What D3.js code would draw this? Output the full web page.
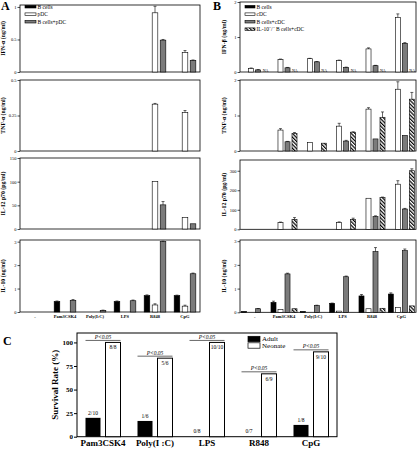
<!DOCTYPE html>
<html><head><meta charset="utf-8">
<script src="https://cdn.jsdelivr.net/npm/d3@7"></script>
<style>body{margin:0;background:#fff}svg{display:block}text{font-family:"Liberation Serif","Times New Roman",serif}</style>
</head><body><svg id="c" width="418" height="449"></svg>
<script>
// ---------- data ----------
const catsAB = ["-", "Pam3CSK4", "Poly(I:C)", "LPS", "R848", "CpG"];
const seriesA = ["B cells", "pDC", "B cells+pDC"];
const seriesB = ["B cells", "cDC", "B cells+cDC", "IL-10\u207B/\u207B B cells+cDC"];

// Panel A
const aIfnB    = [0, 0, 0, 0, 0, 0];
const aIfnP    = [0, 0, 0, 0, 0.91, 0.30];
const aIfnBP   = [0, 0, 0, 0, 0.49, 0.18];
const aIfnPerr = [0, 0, 0, 0, 0.10, 0.03];
const aIfnBPerr= [0, 0, 0, 0, 0.01, 0.005];
const aTnfB    = [0, 0, 0, 0, 0, 0];
const aTnfP    = [0, 0, 0, 0, 0.33, 0.27];
const aTnfBP   = [0, 0, 0, 0, 0, 0];
const aTnfPerr = [0, 0, 0, 0, 0.005, 0.015];
const aIl12B   = [0, 0, 0, 0, 0, 0];
const aIl12P   = [0, 0, 0, 0, 100, 24];
const aIl12BP  = [0, 0, 0, 0, 51, 11];
const aIl12BPerr=[0, 0, 0, 0, 7, 0];
const aIl10B   = [0, 0.45, 0, 0.45, 0.70, 0.70];
const aIl10P   = [0, 0, 0, 0, 0.30, 0.25];
const aIl10BP  = [0, 0.50, 0.07, 0.48, 3.0, 1.63];
const aIl10Berr= [0, 0.02, 0, 0.02, 0.03, 0.02];
const aIl10Perr= [0, 0, 0, 0, 0.05, 0.04];
const aIl10BPerr=[0, 0.03, 0.01, 0.03, 0.02, 0.03];

// Panel B
const bIfnB    = [0, 0, 0, 0, 0, 0];
const bIfnC    = [0.105, 0.36, 0.38, 0.33, 0.66, 1.56];
const bIfnBC   = [0.06, 0.12, 0.29, 0.13, 0.18, 0.82];
const bIfnCerr = [0.01, 0.01, 0.01, 0.01, 0.03, 0.1];
const bIfnBCerr= [0.01, 0.01, 0.01, 0.01, 0.01, 0.02];
const bIfnKOna = ["NA", "NA", "NA", "NA", "NA", "NA"];
const bTnfC    = [0, 0.59, 0.245, 0.70, 1.18, 1.74];
const bTnfBC   = [0, 0.26, 0, 0.28, 0.34, 0.44];
const bTnfKO   = [0, 0.49, 0.22, 0.53, 0.95, 1.46];
const bTnfCerr = [0, 0.04, 0, 0.08, 0.04, 0.21];
const bTnfBCerr= [0, 0.01, 0, 0.02, 0, 0];
const bTnfKOerr= [0, 0.03, 0, 0.01, 0.15, 0.19];
const bIl12C   = [0, 34, 0, 35, 159, 231];
const bIl12BC  = [0, 0, 0, 0, 65, 104];
const bIl12KO  = [0, 51, 0, 51, 162, 300];
const bIl12Cerr= [0, 3, 0, 3, 0, 18];
const bIl12BCerr=[0, 0, 0, 0, 4, 3];
const bIl12KOerr=[0, 9, 0, 6, 3, 10];
const bIl10B   = [0.04, 0.42, 0.04, 0.38, 0.69, 0.77];
const bIl10C   = [0, 0.12, 0, 0.05, 0.15, 0.20];
const bIl10BC  = [0.15, 1.62, 0.28, 1.50, 2.56, 2.60];
const bIl10KO  = [0, 0.15, 0, 0, 0.17, 0.27];
const bIl10Berr= [0, 0.05, 0, 0.01, 0.06, 0.05];
const bIl10BCerr=[0.01, 0.03, 0.02, 0.03, 0.17, 0.07];

// Panel C
const catsC = ["Pam3CSK4", "Poly(I :C)", "LPS", "R848", "CpG"];
const seriesC = ["Adult", "Neonate"];
const adultRate = [20, 16.7, 0, 0, 12.5];
const neonateRate = [100, 83.3, 100, 66.7, 90];
const adultFrac = ["2/10", "1/6", "0/8", "0/7", "1/8"];
const neonateFrac = ["8/8", "5/6", "10/10", "6/9", "9/10"];
const pLabels = ["P<0.05", "P<0.05", "P<0.05", "P<0.05", "P<0.05"];
const ticksC = [0, 25, 50, 75, 100];

// ---------- drawing ----------
const svg = d3.select("#c");
const GRAY = "#7b7b7b";
const defs = svg.append("defs");
const pat = defs.append("pattern").attr("id","hatch").attr("patternUnits","userSpaceOnUse")
  .attr("width",2.6).attr("height",2.6).attr("patternTransform","rotate(-45)");
pat.append("rect").attr("width",2.6).attr("height",2.6).attr("fill","#fff");
pat.append("line").attr("x1",0.6).attr("y1",0).attr("x2",0.6).attr("y2",2.6).attr("stroke","#000").attr("stroke-width",1.2);

const fillFor = s => s === 0 ? "#000" : s === 1 ? "#fff" : s === 2 ? GRAY : "url(#hatch)";

function subplot(o) {
  const g = svg.append("g");
  const x0 = d3.scaleBand().domain(catsAB).range([o.x0, o.x1]);
  const x1 = d3.scaleBand().domain(d3.range(o.nSeries)).range([0, x0.bandwidth()])
    .paddingInner(o.pi).paddingOuter(o.po);
  const y = d3.scaleLinear().domain([0, o.ymax]).range([o.yb, o.yt]);
  g.append("rect").attr("x", o.x0).attr("y", o.yt).attr("width", o.x1 - o.x0).attr("height", o.yb - o.yt)
    .attr("fill","none").attr("stroke","#000").attr("stroke-width",0.8);
  const ax = d3.axisLeft(y).tickValues(o.ticks).tickSize(2.5).tickPadding(1).tickFormat(o.fmt || (d=>d));
  const ag = g.append("g").attr("transform",`translate(${o.x0},0)`).call(ax);
  ag.select(".domain").remove();
  ag.selectAll("line").attr("stroke-width",0.7);
  ag.selectAll("text").attr("font-size",4.5).attr("font-family","Liberation Serif");
  g.append("text").attr("transform",`translate(${o.lx},${(o.yt+o.yb)/2}) rotate(-90)`)
    .attr("text-anchor","middle").attr("font-size",5.8).attr("font-weight","bold").text(o.label);
  o.series.forEach((vals, s) => {
    if (!vals) return;
    const errs = o.errs[s];
    catsAB.forEach((c, i) => {
      const v = vals[i];
      if (!v) return;
      const bx = x0(c) + x1(s), bw = x1.bandwidth();
      g.append("rect").attr("x", bx).attr("y", y(v)).attr("width", bw).attr("height", y(0) - y(v))
        .attr("fill", fillFor(s)).attr("stroke", "#000").attr("stroke-width", 0.6);
      if (errs && errs[i]) {
        const cx = bx + bw/2;
        g.append("line").attr("x1",cx).attr("x2",cx).attr("y1",y(v)).attr("y2",y(v+errs[i])).attr("stroke","#000").attr("stroke-width",0.6);
        g.append("line").attr("x1",cx-1.5).attr("x2",cx+1.5).attr("y1",y(v+errs[i])).attr("y2",y(v+errs[i])).attr("stroke","#000").attr("stroke-width",0.6);
      }
    });
  });
  if (o.na) {
    catsAB.forEach((c,i) => {
      g.append("text").attr("x", x0(c) + x1(3)).attr("y", o.yb - 0.5).attr("font-size",4).text(o.na[i]);
    });
  }
  if (o.xlabels) {
    catsAB.forEach((c,i) => {
      g.append("text").attr("x", x0(c) + x0.bandwidth()/2).attr("y", o.yb + 5.5).attr("text-anchor","middle")
        .attr("font-size",4.5).attr("font-weight","bold").text(c);
    });
  }
  return g;
}

// Panel A
const A = {x0: 20, x1: 200, nSeries: 3, pi: 0.3, po: 0.52, lx: 5};
subplot({...A, yt: 5, yb: 72, ymax: 1.03, ticks: [0, 0.5, 1], label: "IFN-\u03B1 (ng/ml)",
  series: [aIfnB, aIfnP, aIfnBP], errs: [null, aIfnPerr, aIfnBPerr]});
subplot({...A, yt: 80, yb: 151, ymax: 0.5, ticks: [0, 0.25, 0.5], label: "TNF-\u03B1 (ng/ml)",
  series: [aTnfB, aTnfP, aTnfBP], errs: [null, aTnfPerr, null]});
subplot({...A, yt: 158, yb: 229, ymax: 150, ticks: [0, 50, 100, 150], label: "IL-12 p70 (pg/ml)",
  series: [aIl12B, aIl12P, aIl12BP], errs: [null, null, aIl12BPerr]});
subplot({...A, yt: 240, yb: 312, ymax: 3.07, ticks: [0, 1, 2, 3], label: "IL-10 (ng/ml)",
  series: [aIl10B, aIl10P, aIl10BP], errs: [aIl10Berr, aIl10Perr, aIl10BPerr], xlabels: true});

// Panel B
const B = {x0: 240, x1: 416, nSeries: 4, pi: 0.28, po: 0.235, lx: 226};
subplot({...B, yt: 2, yb: 72, ymax: 2, ticks: [0, 1, 2], label: "IFN-\u03B2 (ng/ml)",
  series: [bIfnB, bIfnC, bIfnBC, null], errs: [null, bIfnCerr, bIfnBCerr, null], na: bIfnKOna});
subplot({...B, yt: 80, yb: 151, ymax: 2, ticks: [0, 1, 2], label: "TNF-\u03B1 (ng/ml)",
  series: [null, bTnfC, bTnfBC, bTnfKO], errs: [null, bTnfCerr, bTnfBCerr, bTnfKOerr]});
subplot({...B, yt: 160, yb: 229.3, ymax: 355, ticks: [0, 100, 200, 300], label: "IL-12 p70 (pg/ml)",
  series: [null, bIl12C, bIl12BC, bIl12KO], errs: [null, bIl12Cerr, bIl12BCerr, bIl12KOerr]});
subplot({...B, yt: 240, yb: 312.3, ymax: 3.05, ticks: [0, 1, 2, 3], label: "IL-10 (ng/ml)",
  series: [bIl10B, bIl10C, bIl10BC, bIl10KO], errs: [bIl10Berr, null, bIl10BCerr, null], xlabels: true});

function legend(x, y0, dy, names, fs, sw, sh) {
  names.forEach((n, i) => {
    const y = y0 + i*dy;
    svg.append("rect").attr("x", x).attr("y", y - sh/2).attr("width", sw).attr("height", sh)
      .attr("fill", fillFor(i)).attr("stroke", "#000").attr("stroke-width", 0.6);
    svg.append("text").attr("x", x + sw + 1.5).attr("y", y + fs*0.35).attr("font-size", fs).text(n);
  });
}
legend(25, 6.7, 7.5, seriesA, 5.5, 11, 2.6);
legend(245, 6.7, 7.5, seriesB, 5.5, 10, 2.6);

svg.append("text").attr("x",1).attr("y",10).attr("font-size",12).attr("font-weight","bold").attr("font-family","Liberation Sans").text("A");
svg.append("text").attr("x",213).attr("y",10).attr("font-size",12).attr("font-weight","bold").attr("font-family","Liberation Sans").text("B");
svg.append("text").attr("x",3).attr("y",345).attr("font-size",12).attr("font-weight","bold").attr("font-family","Liberation Sans").text("C");

// Panel C
(function(){
  const L = 77, R = 337, T = 333, Bt = 436.7;
  const g = svg.append("g");
  const x0 = d3.scaleBand().domain(catsC).range([L, R]);
  const x1 = d3.scaleBand().domain(seriesC).range([0, x0.bandwidth()]).paddingInner(0.25).paddingOuter(0.425);
  const y = d3.scaleLinear().domain([0, 110]).range([Bt, T]);
  g.append("rect").attr("x",L).attr("y",T).attr("width",R-L).attr("height",Bt-T).attr("fill","none").attr("stroke","#000").attr("stroke-width",1);
  const ag = g.append("g").attr("transform",`translate(${L},0)`).call(d3.axisLeft(y).tickValues(ticksC).tickSize(3).tickPadding(1));
  ag.select(".domain").remove();
  ag.selectAll("text").attr("font-size",7).attr("font-weight","bold").attr("font-family","Liberation Serif");
  g.append("text").attr("transform",`translate(${58},${(T+Bt)/2}) rotate(-90)`).attr("text-anchor","middle")
    .attr("font-size",9).attr("font-weight","bold").text("Survival Rate (%)");
  catsC.forEach((c, i) => {
    const ax = x0(c) + x1("Adult"), nx = x0(c) + x1("Neonate"), bw = x1.bandwidth();
    if (adultRate[i] > 0)
      g.append("rect").attr("x",ax).attr("y",y(adultRate[i])).attr("width",bw).attr("height",Bt-y(adultRate[i])).attr("fill","#000");
    g.append("rect").attr("x",nx).attr("y",y(neonateRate[i])).attr("width",bw).attr("height",Bt-y(neonateRate[i]))
      .attr("fill","#fff").attr("stroke","#000").attr("stroke-width",1);
    g.append("text").attr("x",ax+bw/2).attr("y",y(adultRate[i]) - (adultRate[i] > 0 ? 3 : 4)).attr("text-anchor","middle").attr("font-size",5.5).text(adultFrac[i]);
    g.append("text").attr("x",nx+bw/2).attr("y",y(neonateRate[i]) + 7).attr("text-anchor","middle").attr("font-size",5.5).text(neonateFrac[i]);
    const py = y(neonateRate[i]) - 2;
    g.append("line").attr("x1",ax).attr("x2",nx+bw).attr("y1",py).attr("y2",py).attr("stroke","#000").attr("stroke-width",0.6);
    g.append("text").attr("x",(ax+nx+bw)/2).attr("y",py-1.5).attr("text-anchor","middle").attr("font-size",5.5).attr("font-style","italic").text(pLabels[i]);
    g.append("text").attr("x",x0(c)+x0.bandwidth()/2).attr("y",446).attr("text-anchor","middle").attr("font-size",9).attr("font-weight","bold").text(c);
  });
  seriesC.forEach((n, i) => {
    const ly = 339 + i*6.5;
    g.append("rect").attr("x",248).attr("y",ly-2.7).attr("width",12).attr("height",5.4)
      .attr("fill", i === 0 ? "#000" : "#fff").attr("stroke","#000").attr("stroke-width",0.7);
    g.append("text").attr("x",262).attr("y",ly+2.3).attr("font-size",7).text(n);
  });
})();
</script></body></html>
